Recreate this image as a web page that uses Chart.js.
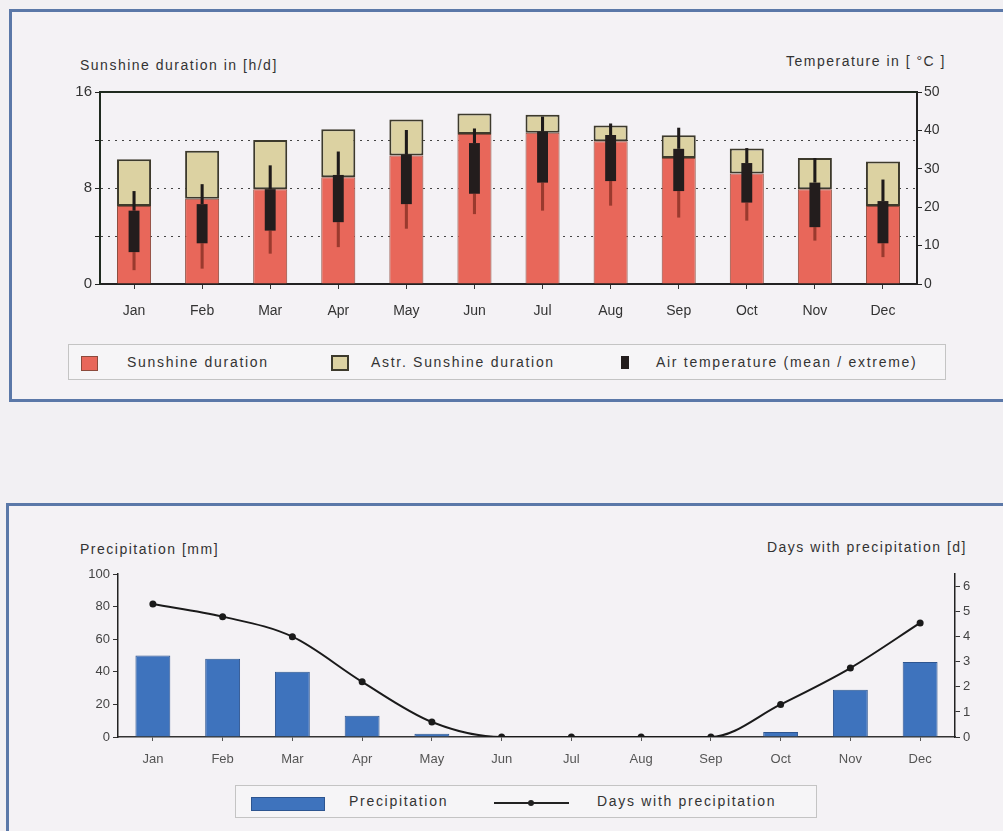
<!DOCTYPE html>
<html>
<head>
<meta charset="utf-8">
<script src="https://cdn.jsdelivr.net/npm/chart.js@4.4.0/dist/chart.umd.min.js"></script>
<style>
  body { margin: 0; width: 1003px; height: 831px; overflow: hidden; position: relative;
         background: #f2f0f3; font-family: "Liberation Sans", Arial, sans-serif; }
  .panel { position: absolute; border: 3px solid #5b78a8; background: #f4f2f5; }
  #panelTop { left: 9px; top: 9px; width: 1010px; height: 387px; }
  #panelBottom { left: 6px; top: 503px; width: 1010px; height: 400px; }
  canvas { position: absolute; left: 0; }
  .ttl { position: absolute; font-size: 14px; color: #333; letter-spacing: 1.5px; white-space: nowrap; }
  .legend { position: absolute; border: 1px solid #c4c4c4; background: #f6f5f7;
            font-size: 14px; color: #333; letter-spacing: 1.7px; }
  .legend span { position: absolute; white-space: nowrap; }
</style>
</head>
<body>
<div class="panel" id="panelTop"></div>
<div class="panel" id="panelBottom"></div>

<div class="ttl" style="left:80px; top:57px;">Sunshine duration in [h/d]</div>
<div class="ttl" style="right:57px; top:53px;">Temperature in [ °C ]</div>
<canvas id="sunChart" width="1003" height="335" style="top:0"></canvas>

<div class="legend" style="left:68px; top:344px; width:876px; height:34px;">
  <span style="left:12px; top:11px; width:15px; height:13px; background:#e8675a; border:1px solid #8c4a3c;"></span>
  <span style="left:58px; top:9px;">Sunshine duration</span>
  <span style="left:262px; top:10px; width:14px; height:12px; background:#dcd2a2; border:2px solid #3d3a2c;"></span>
  <span style="left:302px; top:9px;">Astr. Sunshine duration</span>
  <span style="left:552px; top:11px; width:8px; height:13px; background:#231d1d;"></span>
  <span style="left:587px; top:9px;">Air temperature (mean / extreme)</span>
</div>

<div class="ttl" style="left:80px; top:541px;">Precipitation [mm]</div>
<div class="ttl" style="right:36px; top:539px;">Days with precipitation [d]</div>
<canvas id="rainChart" width="1003" height="260" style="top:520px"></canvas>

<div class="legend" style="left:235px; top:785px; width:580px; height:31px;">
  <span style="left:15px; top:11px; width:72px; height:12px; background:#3e73bd; border:1px solid #2d5590;"></span>
  <span style="left:113px; top:7px;">Precipitation</span>
  <span style="left:258px; top:16px; width:75px; height:2px; background:#222;"></span>
  <span style="left:292px; top:14px; width:6px; height:6px; border-radius:3px; background:#222;"></span>
  <span style="left:361px; top:7px;">Days with precipitation</span>
</div>

<script>
// ---- data ----
const months = ['Jan', 'Feb', 'Mar', 'Apr', 'May', 'Jun', 'Jul', 'Aug', 'Sep', 'Oct', 'Nov', 'Dec'];

// sunshine duration and astronomical sunshine duration, h/d
const sunshine     = [6.5, 7.1, 7.9, 8.9, 10.7, 12.5, 12.6, 11.9, 10.5, 9.2, 7.9, 6.5];
const astrSunshine = [10.4, 11.1, 12.0, 12.9, 13.7, 14.2, 14.1, 13.2, 12.4, 11.3, 10.5, 10.2];

// air temperature, °C
const tempAbsMin  = [3.6, 4.0, 7.9, 9.6, 14.4, 18.2, 19.1, 20.4, 17.3, 16.5, 11.3, 7.0];
const tempMeanMin = [8.3, 10.6, 13.9, 16.1, 20.8, 23.5, 26.4, 26.8, 24.2, 21.2, 14.8, 10.6];
const tempMeanMax = [19.1, 20.8, 24.7, 28.4, 33.7, 36.7, 39.7, 38.8, 35.2, 31.5, 26.4, 21.6];
const tempAbsMax  = [24.2, 26.0, 30.9, 34.5, 40.1, 40.5, 43.6, 41.8, 40.7, 35.4, 32.8, 27.2];

// precipitation, mm, and days with precipitation
const precipitation = [50, 48, 40, 13, 2, 0, 0, 0, 0, 3, 29, 46];
const rainDays      = [5.3, 4.8, 4.0, 2.2, 0.6, 0, 0, 0, 0, 1.3, 2.75, 4.55];

const sunTicks  = [0, 8, 16];
const tempTicks = [0, 10, 20, 30, 40, 50];

//-----------------------------------------------------
const pair = (a, b) => a.map((v, i) => [v, b[i]]);
const fixWidth = w => scale => { scale.width = w; };
const fixHeight = h => scale => { scale.height = h; };
const FONT = { family: 'Liberation Sans', size: 14 };

// dark frame line along the top of the plot area
const topFrame = {
  id: 'topFrame',
  afterDraw(chart, args, opts) {
    if (!opts.show) return;
    const { ctx, chartArea } = chart;
    ctx.save();
    ctx.strokeStyle = '#1f2a1f';
    ctx.lineWidth = 2;
    ctx.beginPath();
    ctx.moveTo(chartArea.left, chartArea.top);
    ctx.lineTo(chartArea.right, chartArea.top);
    ctx.stroke();
    ctx.restore();
  }
};

new Chart(document.getElementById('sunChart'), {
  type: 'bar',
  data: {
    labels: months,
    datasets: [
      { label: 'Air temperature upper', data: pair(tempMeanMax, tempAbsMax), yAxisID: 'y1',
        backgroundColor: '#1e1a1a', barPercentage: 0.045, order: 1 },
      { label: 'Air temperature lower', data: pair(tempAbsMin, tempMeanMin), yAxisID: 'y1',
        backgroundColor: '#9a3a2e', barPercentage: 0.045, order: 1 },
      { label: 'Air temperature (mean / extreme)', data: pair(tempMeanMin, tempMeanMax), yAxisID: 'y1',
        backgroundColor: '#231d1d', barPercentage: 0.16, order: 0 },
      { label: 'Astr. Sunshine duration', data: pair(sunshine, astrSunshine), yAxisID: 'y',
        backgroundColor: '#dcd2a2', borderColor: '#3d3a2c', borderWidth: 2, borderSkipped: false,
        barPercentage: 0.5, order: 3 },
      { label: 'Sunshine duration', data: sunshine, yAxisID: 'y',
        backgroundColor: '#e8675a', borderColor: '#8c4a3c', borderWidth: 1,
        barPercentage: 0.5, order: 2 }
    ]
  },
  options: {
    responsive: false,
    animation: false,
    layout: { padding: { left: 70, right: 46, top: 92, bottom: 11 } },
    datasets: { bar: { grouped: false, categoryPercentage: 1 } },
    plugins: { legend: { display: false }, tooltip: { enabled: false }, topFrame: { show: true } },
    scales: {
      x: {
        afterFit: fixHeight(40),
        grid: { offset: false, drawOnChartArea: false, tickLength: 5, tickColor: '#333' },
        border: { color: '#222', width: 2 },
        ticks: { font: FONT, color: '#333', padding: 14 }
      },
      y: {
        position: 'left', min: 0, max: 16,
        afterFit: fixWidth(30),
        afterBuildTicks: s => { s.ticks = [0, 4, 8, 12, 16].map(v => ({ value: v })); },
        ticks: { font: { ...FONT, size: 15 }, color: '#333', padding: 3,
                 callback: v => sunTicks.includes(v) ? v : '' },
        grid: { tickLength: 5, tickColor: '#222', lineWidth: 1,
                color: c => (c.tick && (c.tick.value === 0 || c.tick.value === 16)) ? 'rgba(0,0,0,0)' : '#444' },
        border: { color: '#1f2a1f', width: 2, dash: [2, 5] }
      },
      y1: {
        position: 'right', min: 0, max: 50,
        afterFit: fixWidth(40),
        ticks: { stepSize: 5, font: FONT, color: '#333', padding: 2,
                 callback: v => tempTicks.includes(v) ? v : '' },
        grid: { drawOnChartArea: false, tickLength: 5, tickColor: '#222' },
        border: { color: '#222', width: 2 }
      }
    }
  },
  plugins: [topFrame]
});

new Chart(document.getElementById('rainChart'), {
  type: 'bar',
  data: {
    labels: months,
    datasets: [
      { type: 'line', label: 'Days with precipitation', data: rainDays, yAxisID: 'y1',
        borderColor: '#1a1a1a', borderWidth: 2, pointRadius: 3.5, pointBackgroundColor: '#1a1a1a',
        pointBorderWidth: 0, tension: 0.4, cubicInterpolationMode: 'monotone', order: 0 },
      { label: 'Precipitation', data: precipitation, yAxisID: 'y',
        backgroundColor: '#3e73bd', borderColor: '#2d5590', borderWidth: 1,
        categoryPercentage: 1, barPercentage: 0.5, order: 1 }
    ]
  },
  options: {
    responsive: false,
    animation: false,
    layout: { padding: { left: 83, right: 23, top: 54, bottom: 9 } },
    plugins: { legend: { display: false }, tooltip: { enabled: false } },
    scales: {
      x: {
        afterFit: fixHeight(34),
        grid: { offset: false, drawOnChartArea: false, tickLength: 4, tickColor: '#555' },
        border: { color: '#333', width: 1.5 },
        ticks: { font: { ...FONT, size: 13 }, color: '#555', padding: 11 }
      },
      y: {
        position: 'left', min: 0, max: 100,
        afterFit: fixWidth(35),
        ticks: { stepSize: 10, font: { ...FONT, size: 13 }, color: '#444', padding: 3,
                 callback: v => v % 20 === 0 ? v : '' },
        grid: { drawOnChartArea: false, tickLength: 5, tickColor: '#333' },
        border: { color: '#222', width: 1.5 }
      },
      y1: {
        position: 'right', min: 0, max: 6.5,
        afterFit: fixWidth(25),
        ticks: { stepSize: 0.5, font: { ...FONT, size: 13 }, color: '#444', padding: 3,
                 callback: v => Number.isInteger(v) ? v : '' },
        grid: { drawOnChartArea: false, tickLength: 5, tickColor: '#333' },
        border: { color: '#222', width: 1.5 }
      }
    }
  }
});
</script>
</body>
</html>
